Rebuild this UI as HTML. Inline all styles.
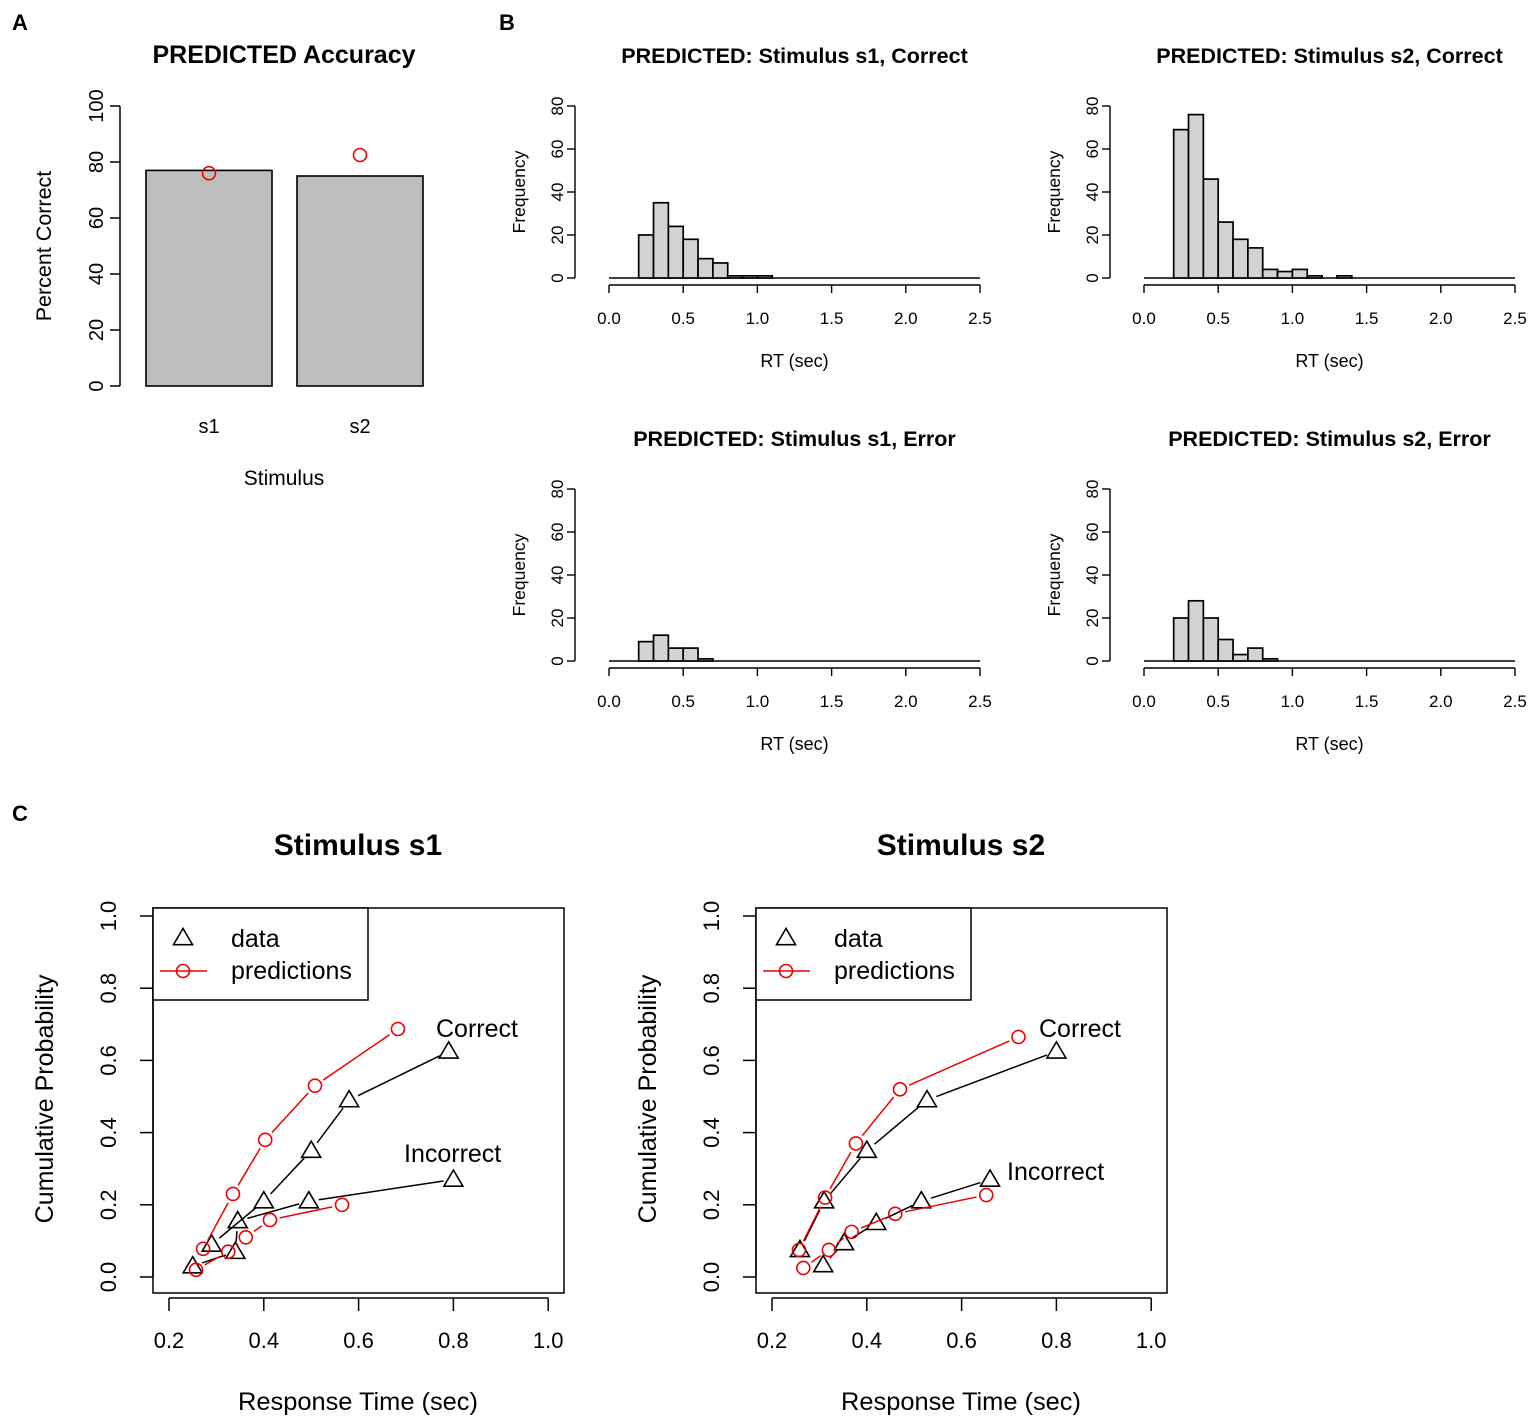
<!DOCTYPE html>
<html><head><meta charset="utf-8"><style>
html,body{margin:0;padding:0;background:#fff}
svg{display:block;font-family:"Liberation Sans",Arial,sans-serif}
</style></head><body>
<svg id="fig" width="1535" height="1421" viewBox="0 0 1535 1421" xmlns="http://www.w3.org/2000/svg"></svg>
<script>
// ---- Panel A data ----
const accCategories = ["s1","s2"];
const accObserved = [77, 75];
const accPredicted = [76, 82.5];
const accTicks = [0,20,40,60,80,100];
// ---- Panel B data (counts per 0.1s bin starting at 0.0) ----
const histTicks = ["0.0","0.5","1.0","1.5","2.0","2.5"];
const histYTicks = [0,20,40,60,80];
const s1Correct = [0,0,20,35,24,18,9,7,1,1,1];
const s2Correct = [0,0,69,76,46,26,18,14,4,3,4,1,0,1];
const s1Error = [0,0,9,12,6,6,1];
const s2Error = [0,0,20,28,20,10,3,6,1];
// ---- Panel C data ----
const cdfXTicks = [0.2,0.4,0.6,0.8,1.0];
const cdfYTicks = [0,0.2,0.4,0.6,0.8,1.0];
const s1DataCorrectX = [0.29,0.40,0.50,0.58,0.79];
const s1DataCorrectY = [0.09,0.21,0.35,0.49,0.625];
const s1DataErrorX = [0.25,0.34,0.345,0.495,0.80];
const s1DataErrorY = [0.03,0.07,0.155,0.21,0.27];
const s1PredCorrectX = [0.272,0.335,0.403,0.508,0.683];
const s1PredCorrectY = [0.078,0.23,0.38,0.53,0.687];
const s1PredErrorX = [0.257,0.325,0.362,0.413,0.565];
const s1PredErrorY = [0.02,0.07,0.11,0.158,0.20];
const s2DataCorrectX = [0.259,0.31,0.40,0.527,0.80];
const s2DataCorrectY = [0.075,0.21,0.35,0.49,0.625];
const s2DataErrorX = [0.308,0.352,0.42,0.515,0.66];
const s2DataErrorY = [0.033,0.094,0.15,0.21,0.27];
const s2PredCorrectX = [0.257,0.312,0.377,0.47,0.72];
const s2PredCorrectY = [0.075,0.22,0.37,0.52,0.665];
const s2PredErrorX = [0.266,0.32,0.368,0.46,0.652];
const s2PredErrorY = [0.025,0.075,0.125,0.175,0.227];

const NS="http://www.w3.org/2000/svg";
const svg=document.getElementById('fig');
function mk(tag,attrs,parent){const e=document.createElementNS(NS,tag);for(const k in attrs)e.setAttribute(k,attrs[k]);(parent||svg).appendChild(e);return e;}
function line(x1,y1,x2,y2,col,w,name,p){const e=mk('line',{x1,y1,x2,y2,stroke:col||'#000','stroke-width':w||1.5},p);


return e;}
function text(x,y,s,size,anchor,rot,bold,name,p){const at={x,y,'font-size':size,'text-anchor':anchor||'middle',fill:'#000'};if(bold)at['font-weight']='bold';if(rot)at.transform='rotate(-90 '+x+' '+y+')';const e=mk('text',at,p);e.textContent=s;


return e;}
function tri(x,y,name,p){const r=9.5;const e=mk('polygon',{points:`${x},${y-r} ${x-r},${y+r*0.7} ${x+r},${y+r*0.7}`,fill:'none',stroke:'#000','stroke-width':1.6},p);

}
function circ(x,y,name,p){const e=mk('circle',{cx:x,cy:y,r:6.5,fill:'none',stroke:'#e00','stroke-width':1.6},p);

}

// Panel letters
text(20,30,"A",22,'middle',0,true,'panel-label-a');
text(507,30,"B",22,'middle',0,true,'panel-label-b');
text(20,821,"C",22,'middle',0,true,'panel-label-c');

// ---- Panel A ----
(function(){
  const g=mk('g',{});
  
  
  const y=v=>386-v*2.8;
  const bx=[146,297], bw=126;
  line(120,y(0),120,y(100),'#000',1.5,'y-axis',g);
  accTicks.forEach(t=>{line(110,y(t),120,y(t),'#000',1.5,'y-tick',g);text(103,y(t),String(t),20,'middle',true,false,'y-tick-label',g);});
  accCategories.forEach((c,i)=>{
    const r=mk('rect',{x:bx[i],y:y(accObserved[i]),width:bw,height:y(0)-y(accObserved[i]),fill:'#bebebe',stroke:'#000','stroke-width':1.6},g);
    
    
    circ(bx[i]+bw/2,y(accPredicted[i]),'predicted-point-'+c,g);
    text(bx[i]+bw/2,433,c,20,'middle',0,false,'x-category-label',g);
  });
  text(284,63,"PREDICTED Accuracy",25,'middle',0,true,'chart-title',g);
  text(51,246,"Percent Correct",21.5,'middle',true,false,'y-axis-title',g);
  text(284,485,"Stimulus",21,'middle',0,false,'x-axis-title',g);
})();

// ---- Panel B ----
function hist(x0,yb,counts,title,name){
  const g=mk('g',{});
  
  
  const sx=v=>x0+v*148.4, sy=v=>yb-v*2.15;
  const yaxX=x0-34;
  line(yaxX,sy(0),yaxX,sy(80),'#000',1.4,'y-axis',g);
  histYTicks.forEach(t=>{line(yaxX-8,sy(t),yaxX,sy(t),'#000',1.4,'y-tick',g);text(yaxX-12,sy(t),String(t),17,'middle',true,false,'y-tick-label',g);});
  const ax=yb+7;
  line(sx(0),ax,sx(2.5),ax,'#000',1.4,'x-axis',g);
  histTicks.forEach((t,i)=>{const xv=sx(i*0.5);line(xv,ax,xv,ax+8,'#000',1.4,'x-tick',g);text(xv,ax+39,t,17,'middle',0,false,'x-tick-label',g);});
  line(sx(0),yb,sx(2.5),yb,'#000',1.6,'hist-baseline',g);
  counts.forEach((c,i)=>{if(c<=0)return;
    const r=mk('rect',{x:sx(i*0.1),y:sy(c),width:148.4*0.1,height:sy(0)-sy(c),fill:'#d3d3d3',stroke:'#000','stroke-width':1.7},g);
    
    });
  text(sx(1.25),yb-215,title,21.5,'middle',0,true,'chart-title',g);
  text(yaxX-50,sy(40),"Frequency",17.5,'middle',true,false,'y-axis-title',g);
  text(sx(1.25),ax+82,"RT (sec)",18,'middle',0,false,'x-axis-title',g);
}
hist(609,278,s1Correct,"PREDICTED: Stimulus s1, Correct",'hist-s1-correct');
hist(1144,278,s2Correct,"PREDICTED: Stimulus s2, Correct",'hist-s2-correct');
hist(609,661,s1Error,"PREDICTED: Stimulus s1, Error",'hist-s1-error');
hist(1144,661,s2Error,"PREDICTED: Stimulus s2, Error",'hist-s2-error');

// ---- Panel C ----
function gapLine(xs,ys,col,name,g){
  for(let i=0;i<xs.length-1;i++){
    const dx=xs[i+1]-xs[i],dy=ys[i+1]-ys[i],L=Math.hypot(dx,dy),gp=10;
    if(L<=2*gp)continue;
    const ux=dx/L,uy=dy/L;
    line(xs[i]+ux*gp,ys[i]+uy*gp,xs[i+1]-ux*gp,ys[i+1]-uy*gp,col,1.5,name,g);
  }
}
function cdf(bx,title,dcx,dcy,dex,dey,pcx,pcy,pex,pey,corrPos,incPos,name){
  const g=mk('g',{});
  
  
  const x0=bx+16;
  const sx=v=>x0+(v-0.2)*474, sy=v=>1277-v*361;
  const r=mk('rect',{x:bx,y:908,width:411,height:385,fill:'none',stroke:'#000','stroke-width':1.5},g);
  
  
  cdfYTicks.forEach(t=>{line(bx-13,sy(t),bx,sy(t),'#000',1.5,'y-tick',g);text(bx-37,sy(t),t.toFixed(1),22,'middle',true,false,'y-tick-label',g);});
  line(bx,sy(0),bx,sy(1),'#000',1.5,'y-axis',g);
  line(sx(0.2),1298,sx(1.0),1298,'#000',1.5,'x-axis',g);
  cdfXTicks.forEach(t=>{line(sx(t),1298,sx(t),1311,'#000',1.5,'x-tick',g);text(sx(t),1348,t.toFixed(1),22,'middle',0,false,'x-tick-label',g);});
  text(bx+205,855,title,30,'middle',0,true,'chart-title',g);
  text(bx-100,1099,"Cumulative Probability",25,'middle',true,false,'y-axis-title',g);
  text(bx+205,1410,"Response Time (sec)",25.4,'middle',0,false,'x-axis-title',g);
  // legend
  const lg=mk('g',{},g);
  
  
  const lr=mk('rect',{x:bx,y:908,width:215,height:92,fill:'#fff',stroke:'#000','stroke-width':1.5},lg);
  
  
  tri(bx+30,938,'legend-data-marker',lg);
  text(bx+78,947,"data",25,'start',0,false,'legend-data-label',lg);
  line(bx+7,971,bx+54,971,'#e00',1.5,'legend-pred-line',lg);
  circ(bx+30,971,'legend-pred-marker',lg);
  text(bx+78,979,"predictions",25,'start',0,false,'legend-pred-label',lg);
  // series
  const P=(xs,ys)=>[xs.map(sx),ys.map(sy)];
  [[dcx,dcy,'#000','data-correct'],[dex,dey,'#000','data-error'],[pcx,pcy,'#e00','pred-correct'],[pex,pey,'#e00','pred-error']].forEach(s=>{
    const [xs,ys]=P(s[0],s[1]);
    gapLine(xs,ys,s[2],s[3]+'-line',g);
    xs.forEach((x,i)=>{ if(s[2]==='#000') tri(x,ys[i],s[3]+'-point',g); else circ(x,ys[i],s[3]+'-point',g);});
  });
  text(corrPos[0],corrPos[1],"Correct",25,'start',0,false,'correct-annotation',g);
  text(incPos[0],incPos[1],"Incorrect",25,'start',0,false,'incorrect-annotation',g);
}
cdf(153,"Stimulus s1",s1DataCorrectX,s1DataCorrectY,s1DataErrorX,s1DataErrorY,s1PredCorrectX,s1PredCorrectY,s1PredErrorX,s1PredErrorY,[436,1037],[404,1162],'cdf-s1');
cdf(756,"Stimulus s2",s2DataCorrectX,s2DataCorrectY,s2DataErrorX,s2DataErrorY,s2PredCorrectX,s2PredCorrectY,s2PredErrorX,s2PredErrorY,[1039,1037],[1007,1180],'cdf-s2');
</script>
</body></html>
